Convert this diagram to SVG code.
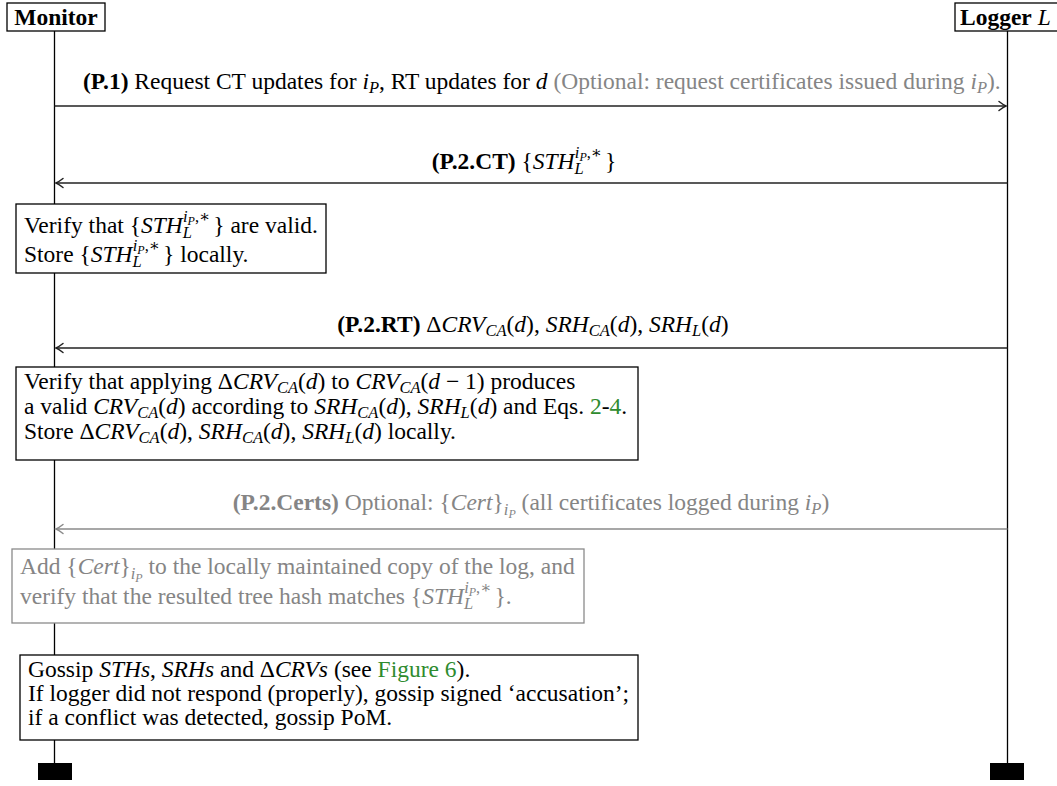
<svg xmlns="http://www.w3.org/2000/svg" width="1057" height="786" viewBox="0 0 1057 786" font-family="'Liberation Serif', 'DejaVu Serif', serif">
  <style>
    text { font-family: 'Liberation Serif', 'DejaVu Serif', serif; font-size: 23.5px; fill: #000; }
    .i { font-style: italic; }
    .b { font-weight: bold; }
    .s { font-size: 16.5px; }
    .ss { font-size: 12px; }
    .grey { fill: #858585; }
    .link { fill: #2e8b2e; }
    .actor { fill: #fff; stroke: #000; stroke-width: 1.3; }
    .note { fill: #fff; stroke: #000; stroke-width: 1.3; }
    .note-grey { fill: #fff; stroke: #8a8a8a; stroke-width: 1.3; }
    .life { stroke: #000; stroke-width: 1.3; fill: none; }
    .msg { stroke: #222; stroke-width: 1.6; fill: none; }
    .msg-grey { stroke: #8a8a8a; stroke-width: 1.6; fill: none; }
    .end { fill: #000; }
  </style>
  <defs>
    <marker id="head" markerUnits="userSpaceOnUse" markerWidth="14" markerHeight="14" refX="0" refY="0" viewBox="-10 -7 12 14" orient="auto">
      <path d="M-7,-4.5 Q-2.5,-1 0,0 Q-2.5,1 -7,4.5" fill="none" stroke="#222" stroke-width="1.5" stroke-linecap="round"/>
    </marker>
    <marker id="head-grey" markerUnits="userSpaceOnUse" markerWidth="14" markerHeight="14" refX="0" refY="0" viewBox="-10 -7 12 14" orient="auto">
      <path d="M-7,-4.5 Q-2.5,-1 0,0 Q-2.5,1 -7,4.5" fill="none" stroke="#8a8a8a" stroke-width="1.5" stroke-linecap="round"/>
    </marker>
  </defs>

  <!-- lifelines with their end bars -->
  <g id="lifelines">
    <line class="life" x1="54.5" y1="31" x2="54.5" y2="763"/>
    <line class="life" x1="1007.5" y1="31" x2="1007.5" y2="763"/>
    <rect class="end" x="38" y="763" width="34" height="17"/>
    <rect class="end" x="990" y="763" width="34" height="17"/>
  </g>

  <!-- participants -->
  <g id="monitor">
    <rect class="actor" x="7" y="3" width="98" height="28"/>
    <text x="56" y="25" text-anchor="middle" class="b">Monitor</text>
  </g>
  <g id="logger">
    <rect class="actor" x="955" y="3" width="104" height="28"/>
    <text x="960" y="25"><tspan class="b">Logger</tspan> <tspan class="i">L</tspan></text>
  </g>

  <!-- messages -->
  <g id="connectors">
    <line class="msg" x1="54.5" y1="106" x2="1006" y2="106" marker-end="url(#head)"/>
    <line class="msg" x1="1007.5" y1="183" x2="56" y2="183" marker-end="url(#head)"/>
    <line class="msg" x1="1007.5" y1="348" x2="56" y2="348" marker-end="url(#head)"/>
    <line class="msg-grey" x1="1007.5" y1="529" x2="56" y2="529" marker-end="url(#head-grey)"/>
  </g>

  <g id="msg-p1">
    <text x="83" y="89"><tspan class="b">(P.1)</tspan> Request CT updates for <tspan class="i">i</tspan><tspan class="i s" dy="4">P</tspan><tspan dy="-4">, RT updates for </tspan><tspan class="i">d</tspan><tspan class="grey"> (Optional: request certificates issued during <tspan class="i">i</tspan><tspan class="i s" dy="4">P</tspan><tspan dy="-4">).</tspan></tspan></text>
  </g>

  <g id="msg-p2ct">
    <text x="524" y="169" text-anchor="middle"><tspan class="b">(P.2.CT)</tspan> {<tspan class="i">STH</tspan><tspan class="i s" dy="5">L</tspan><tspan class="i s" dx="-9" dy="-16">i</tspan><tspan class="i ss" dy="3">P</tspan><tspan class="s" dy="-3">,∗</tspan><tspan dx="3" dy="11">}</tspan></text>
  </g>

  <g id="note-sth">
    <rect class="note" x="16" y="204" width="310" height="69"/>
    <text x="24" y="233">Verify that {<tspan class="i">STH</tspan><tspan class="i s" dy="5">L</tspan><tspan class="i s" dx="-9" dy="-16">i</tspan><tspan class="i ss" dy="3">P</tspan><tspan class="s" dy="-3">,∗</tspan><tspan dx="3" dy="11">} are valid.</tspan></text>
    <text x="24" y="262">Store {<tspan class="i">STH</tspan><tspan class="i s" dy="5">L</tspan><tspan class="i s" dx="-9" dy="-16">i</tspan><tspan class="i ss" dy="3">P</tspan><tspan class="s" dy="-3">,∗</tspan><tspan dx="3" dy="11">} locally.</tspan></text>
  </g>

  <g id="msg-p2rt">
    <text x="533" y="332" text-anchor="middle"><tspan class="b">(P.2.RT)</tspan> Δ<tspan class="i">CRV</tspan><tspan class="i s" dy="4">CA</tspan><tspan dy="-4">(</tspan><tspan class="i">d</tspan>), <tspan class="i">SRH</tspan><tspan class="i s" dy="4">CA</tspan><tspan dy="-4">(</tspan><tspan class="i">d</tspan>), <tspan class="i">SRH</tspan><tspan class="i s" dy="4">L</tspan><tspan dy="-4">(</tspan><tspan class="i">d</tspan>)</text>
  </g>

  <g id="note-crv">
    <rect class="note" x="16" y="367" width="622" height="93"/>
    <text x="24" y="389">Verify that applying Δ<tspan class="i">CRV</tspan><tspan class="i s" dy="4">CA</tspan><tspan dy="-4">(</tspan><tspan class="i">d</tspan>) to <tspan class="i">CRV</tspan><tspan class="i s" dy="4">CA</tspan><tspan dy="-4">(</tspan><tspan class="i">d</tspan> − 1) produces</text>
    <text x="24" y="414">a valid <tspan class="i">CRV</tspan><tspan class="i s" dy="4">CA</tspan><tspan dy="-4">(</tspan><tspan class="i">d</tspan>) according to <tspan class="i">SRH</tspan><tspan class="i s" dy="4">CA</tspan><tspan dy="-4">(</tspan><tspan class="i">d</tspan>), <tspan class="i">SRH</tspan><tspan class="i s" dy="4">L</tspan><tspan dy="-4">(</tspan><tspan class="i">d</tspan>) and Eqs. <tspan class="link">2</tspan>-<tspan class="link">4</tspan>.</text>
    <text x="24" y="439">Store Δ<tspan class="i">CRV</tspan><tspan class="i s" dy="4">CA</tspan><tspan dy="-4">(</tspan><tspan class="i">d</tspan>), <tspan class="i">SRH</tspan><tspan class="i s" dy="4">CA</tspan><tspan dy="-4">(</tspan><tspan class="i">d</tspan>), <tspan class="i">SRH</tspan><tspan class="i s" dy="4">L</tspan><tspan dy="-4">(</tspan><tspan class="i">d</tspan>) locally.</text>
  </g>

  <g id="msg-p2certs">
    <text x="531" y="510" text-anchor="middle" class="grey"><tspan class="b">(P.2.Certs)</tspan> Optional: {<tspan class="i">Cert</tspan>}<tspan class="i s" dy="5">i</tspan><tspan class="i ss" dy="3">P</tspan><tspan dy="-8"> (all certificates logged during </tspan><tspan class="i">i</tspan><tspan class="i s" dy="4">P</tspan><tspan dy="-4">)</tspan></text>
  </g>

  <g id="note-certs">
    <rect class="note-grey" x="12" y="549" width="572" height="74"/>
    <text x="20" y="574" class="grey">Add {<tspan class="i">Cert</tspan>}<tspan class="i s" dy="5">i</tspan><tspan class="i ss" dy="3">P</tspan><tspan dy="-8"> to the locally maintained copy of the log, and</tspan></text>
    <text x="20" y="604" class="grey">verify that the resulted tree hash matches {<tspan class="i">STH</tspan><tspan class="i s" dy="5">L</tspan><tspan class="i s" dx="-9" dy="-16">i</tspan><tspan class="i ss" dy="3">P</tspan><tspan class="s" dy="-3">,∗</tspan><tspan dx="3" dy="11">}.</tspan></text>
  </g>

  <g id="note-gossip">
    <rect class="note" x="20" y="655" width="618" height="85"/>
    <text x="28" y="677">Gossip <tspan class="i">STHs</tspan>, <tspan class="i">SRHs</tspan> and Δ<tspan class="i">CRVs</tspan> (see <tspan class="link">Figure 6</tspan>).</text>
    <text x="28" y="701">If logger did not respond (properly), gossip signed ‘accusation’;</text>
    <text x="28" y="725">if a conflict was detected, gossip PoM.</text>
  </g>
</svg>
